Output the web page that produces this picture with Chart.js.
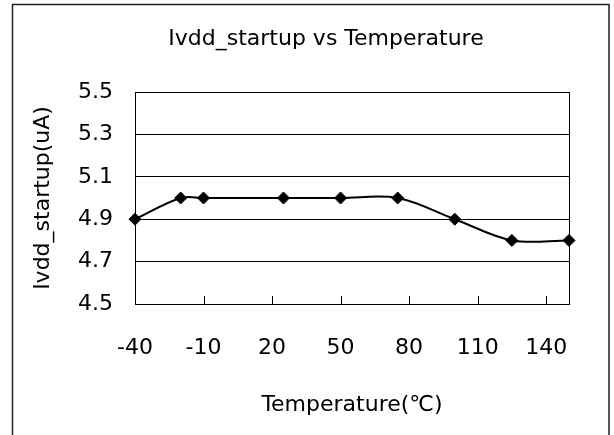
<!DOCTYPE html>
<html><head><meta charset="utf-8">
<script src="https://cdn.jsdelivr.net/npm/chart.js@4.4.0/dist/chart.umd.min.js"></script>
<style>html,body{margin:0;padding:0;background:#fff;overflow:hidden}#wrap{width:614px;height:435px;position:relative}</style>
</head><body><div id="wrap"><canvas id="c" width="614" height="435"></canvas></div>
<script>
const temperatures = [-40, -20, -10, 25, 50, 75, 100, 125, 150];
const ivddStartup = [4.9, 5.0, 5.0, 5.0, 5.0, 5.0, 4.9, 4.8, 4.8];
const xTickValues = [-40, -10, 20, 50, 80, 110, 140];
const yTickValues = [4.5, 4.7, 4.9, 5.1, 5.3, 5.5];
const chartTitle = 'Ivdd_startup vs Temperature';
const xTitle = 'Temperature(℃)';
const yTitle = 'Ivdd_startup(uA)';

const FONT = {family: '"DejaVu Sans", sans-serif', size: 22, weight: 'normal'};

const frameAndTicks = {
  id: 'frameAndTicks',
  beforeDatasetsDraw(chart) {
    const {ctx, chartArea: a, scales: {x}} = chart;
    ctx.save();
    ctx.strokeStyle = '#000';
    ctx.lineWidth = 1;
    ctx.strokeRect(Math.round(a.left) + 0.5, Math.round(a.top) + 0.5,
                   Math.round(a.right - a.left), Math.round(a.bottom - a.top));
    ctx.beginPath();
    x.ticks.forEach(t => {
      const px = Math.round(x.getPixelForValue(t.value)) + 0.5;
      ctx.moveTo(px, a.bottom);
      ctx.lineTo(px, a.bottom - 8);
    });
    ctx.stroke();
    ctx.restore();
  },
  afterDraw(chart) {
    const ctx = chart.ctx;
    ctx.save();
    ctx.strokeStyle = '#222';
    ctx.lineWidth = 1.5;
    ctx.strokeRect(12.5, 4.5, 596.5, 500);
    ctx.restore();
  }
};

new Chart(document.getElementById('c'), {
  type: 'line',
  data: {
    datasets: [{
      data: temperatures.map((t, i) => ({x: t, y: ivddStartup[i]})),
      borderColor: '#000',
      backgroundColor: '#000',
      borderWidth: 2,
      tension: 0.35,
      pointStyle: 'rectRot',
      pointRadius: 6,
      pointBorderWidth: 1,
      pointBackgroundColor: '#000',
      pointBorderColor: '#000',
      fill: false,
      clip: false,
      xAxisID: 'x',
      yAxisID: 'y'
    }]
  },
  options: {
    responsive: false,
    animation: false,
    devicePixelRatio: 1,
    layout: {padding: {left: 38, right: 0, top: 0, bottom: 0}},
    plugins: {
      legend: {display: false},
      tooltip: {enabled: false},
      title: {
        display: true, text: chartTitle, color: '#000', font: FONT,
        padding: {top: 26, bottom: 39.6}
      }
    },
    scales: {
      x: {
        type: 'linear', min: -40, max: 150,
        afterBuildTicks: s => { s.ticks = xTickValues.map(v => ({value: v})); },
        afterFit: s => { s.height = 131; },
        grid: {display: false, drawTicks: false},
        border: {display: false},
        ticks: {padding: 31, font: FONT, color: '#000', maxRotation: 0, autoSkip: false,
                callback: v => String(v)},
        title: {display: true, text: xTitle, color: '#000', font: FONT,
                padding: {top: 0, bottom: 17}}
      },
      y: {
        type: 'linear', position: 'left', min: 4.5, max: 5.5,
        afterBuildTicks: s => { s.ticks = yTickValues.map(v => ({value: v})); },
        afterFit: s => { s.width = 97; },
        grid: {color: '#000', lineWidth: 1, drawTicks: false},
        border: {display: false},
        ticks: {padding: 22, font: FONT, color: '#000', callback: v => Number(v).toFixed(1)},
        title: {display: true, text: yTitle, color: '#000', font: FONT,
                padding: {top: -8, bottom: 0}}
      },
      yRight: {
        type: 'linear', position: 'right', min: 0, max: 1,
        afterFit: s => { s.width = 45; },
        grid: {display: false, drawTicks: false},
        border: {display: false},
        ticks: {display: false}
      }
    }
  },
  plugins: [frameAndTicks]
});
</script></body></html>
